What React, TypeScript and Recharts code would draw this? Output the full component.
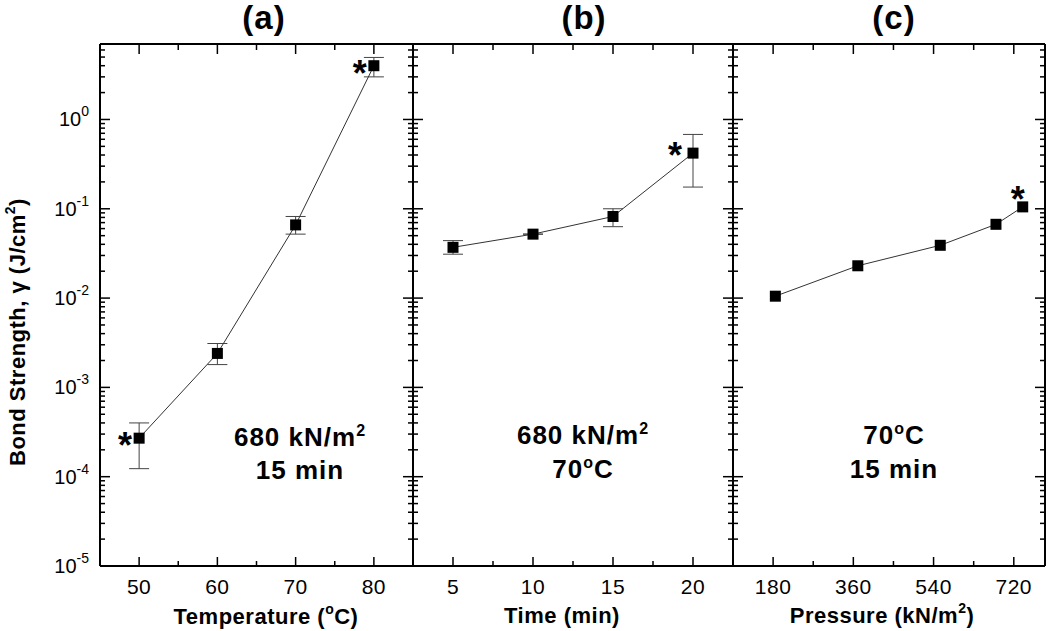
import { LineChart, Line, XAxis, YAxis, ErrorBar } from 'recharts';

const W = 1050;
const H = 631;
const PLOT_TOP = 44;
const PLOT_BOTTOM = 566;
const FONT = '"Liberation Sans", Arial, sans-serif';

// (a) bond strength vs temperature, 680 kN/m2, 15 min
const tempC = [50, 60, 70, 80];
const tempBond = [2.7e-4, 2.4e-3, 0.066, 4.0];
const tempLow = [1.23e-4, 1.8e-3, 0.052, 3.0];
const tempHigh = [4.0e-4, 3.1e-3, 0.082, 4.95];
const tempStar = [0, 3];

// (b) bond strength vs time, 680 kN/m2, 70 C
const timeMin = [5, 10, 15, 20];
const timeBond = [0.037, 0.052, 0.082, 0.42];
const timeLow = [0.031, 0.052, 0.063, 0.175];
const timeHigh = [0.044, 0.052, 0.1, 0.68];
const timeStar = [3];

// (c) bond strength vs pressure, 70 C, 15 min
const pressKN = [185, 370, 555, 680, 740];
const pressBond = [0.0105, 0.023, 0.039, 0.067, 0.105];
const pressStar = [4];

// ticks
const yMajor = [1e-5, 1e-4, 1e-3, 1e-2, 1e-1, 1];
const yExp = ['-5', '-4', '-3', '-2', '-1', '0'];
const yMinorMult = [2, 3, 4, 5, 6, 7, 8, 9];
const Y_DOMAIN: [number, number] = [1e-5, 7];
const yMinor = yMajor.flatMap((d) => yMinorMult.map((m) => m * d)).filter((v) => v < Y_DOMAIN[1]);

const tempMajor = [50, 60, 70, 80];
const tempMinor = [55, 65, 75];
const timeMajor = [5, 10, 15, 20];
const timeMinor = [7.5, 12.5, 17.5];
const pressMajor = [180, 360, 540, 720];
const pressMinor = [270, 450, 630];

type Row = { x: number; y: number; err: [number, number] };

function buildRows(xs: number[], ys: number[], lo?: number[], hi?: number[]): Row[] {
  return xs.map((x, i) => ({
    x,
    y: ys[i],
    err: [lo ? ys[i] - lo[i] : 0, hi ? hi[i] - ys[i] : 0],
  }));
}

const AXIS = { stroke: '#000', strokeWidth: 2 };
const TICK_STROKE = '#000';
const MAJOR = 9;
const MINOR = 5;

interface PanelProps {
  rows: Row[];
  xDomain: [number, number];
  xMajor: number[];
  xMinor: number[];
  left: number;
  right: number;
  yLabels: boolean;
  errors: boolean;
  star: number[];
  starDx: number;
  starDy: number;
}

function Panel({ rows, xDomain, xMajor, xMinor, left, right, yLabels, errors, star, starDx, starDy }: PanelProps) {
  const xTicks = [...xMajor, ...xMinor];
  const yTicks = [...yMajor, ...yMinor];
  const isXMajor = (v: number) => xMajor.includes(v);
  const yIdx = (v: number) => yMajor.indexOf(v);

  // axes are 1px thick, so the margins give up 1px on each side
  return (
    <div style={{ position: 'absolute', left: 0, top: 0 }}>
      <LineChart
        width={W}
        height={H}
        data={rows}
        margin={{ top: PLOT_TOP - 1, bottom: H - PLOT_BOTTOM - 1, left: left - 1, right: W - right - 1 }}
      >
        <XAxis
          xAxisId="b"
          dataKey="x"
          type="number"
          orientation="bottom"
          domain={xDomain}
          allowDataOverflow
          ticks={xTicks}
          interval={0}
          height={1}
          tickSize={0}
          tickMargin={0}
          tickLine={false}
          axisLine={AXIS}
          tick={(p: any) => {
            const major = isXMajor(p.payload.value);
            return (
              <g>
                <line x1={p.x} x2={p.x} y1={p.y} y2={p.y - (major ? MAJOR : MINOR)} stroke={TICK_STROKE} strokeWidth={1.5} />
                {major && (
                  <text x={p.x} y={p.y + 28} textAnchor="middle" fontSize={21} fontFamily={FONT} fill="#000" letterSpacing={0.5}>
                    {p.payload.value}
                  </text>
                )}
              </g>
            );
          }}
        />
        <XAxis
          xAxisId="t"
          dataKey="x"
          type="number"
          orientation="top"
          domain={xDomain}
          allowDataOverflow
          ticks={xTicks}
          interval={0}
          height={1}
          tickSize={0}
          tickMargin={0}
          tickLine={false}
          axisLine={AXIS}
          tick={(p: any) => {
            const major = isXMajor(p.payload.value);
            return (
              <line x1={p.x} x2={p.x} y1={p.y} y2={p.y + (major ? MAJOR + 1 : MINOR + 1)} stroke={TICK_STROKE} strokeWidth={1.5} />
            );
          }}
        />
        <YAxis
          yAxisId="l"
          type="number"
          scale="log"
          domain={Y_DOMAIN}
          allowDataOverflow
          ticks={yTicks}
          interval={0}
          width={1}
          tickSize={0}
          tickMargin={0}
          tickLine={false}
          axisLine={AXIS}
          tick={(p: any) => {
            const k = yIdx(p.payload.value);
            const major = k >= 0;
            return (
              <g>
                <line x1={p.x} x2={p.x + (major ? MAJOR + 1 : MINOR)} y1={p.y} y2={p.y} stroke={TICK_STROKE} strokeWidth={1.5} />
                {major && yLabels && (
                  <text x={p.x - 11} y={p.y + 7} textAnchor="end" fontSize={20} fontFamily={FONT} fill="#000">
                    10
                    <tspan dy={-10} fontSize={14}>
                      {yExp[k]}
                    </tspan>
                  </text>
                )}
              </g>
            );
          }}
        />
        <YAxis
          yAxisId="r"
          type="number"
          orientation="right"
          scale="log"
          domain={Y_DOMAIN}
          allowDataOverflow
          ticks={yTicks}
          interval={0}
          width={1}
          tickSize={0}
          tickMargin={0}
          tickLine={false}
          axisLine={AXIS}
          tick={(p: any) => {
            const major = yIdx(p.payload.value) >= 0;
            return (
              <line x1={p.x} x2={p.x - (major ? MAJOR + 1 : MINOR)} y1={p.y} y2={p.y} stroke={TICK_STROKE} strokeWidth={1.5} />
            );
          }}
        />
        <Line
          xAxisId="b"
          yAxisId="l"
          dataKey="y"
          type="linear"
          stroke="#333"
          strokeWidth={1}
          isAnimationActive={false}
          dot={(p: any) => <rect key={`d${p.index}`} x={p.cx - 5.5} y={p.cy - 5.5} width={11} height={11} fill="#000" />}
          activeDot={false}
          label={(p: any) =>
            star.includes(p.index) ? (
              <text
                key={`s${p.index}`}
                x={p.x + starDx}
                y={p.y + starDy + 18}
                textAnchor="middle"
                fontSize={36}
                fontWeight="bold"
                fontFamily={FONT}
                fill="#000"
              >
                *
              </text>
            ) : (
              <g key={`s${p.index}`} />
            )
          }
        >
          {errors && <ErrorBar dataKey="err" direction="y" width={10} stroke="#444" strokeWidth={1} />}
        </Line>
      </LineChart>
    </div>
  );
}

function Sup({ children, size = 16, dy = -10 }: { children: string; size?: number; dy?: number }) {
  return (
    <tspan dy={dy} fontSize={size}>
      {children}
    </tspan>
  );
}

export default function App() {
  const tempRows = buildRows(tempC, tempBond, tempLow, tempHigh);
  const timeRows = buildRows(timeMin, timeBond, timeLow, timeHigh);
  const pressRows = buildRows(pressKN, pressBond);

  const bold = { fontFamily: FONT, fontWeight: 'bold' as const, fill: '#000', textAnchor: 'middle' as const };

  return (
    <div style={{ position: 'absolute', left: 0, top: 0, width: W, height: H, background: '#fff' }}>
      <Panel rows={tempRows} xDomain={[45, 85]} xMajor={tempMajor} xMinor={tempMinor} left={100} right={413}
        yLabels errors star={tempStar} starDx={-14} starDy={2} />
      <Panel rows={timeRows} xDomain={[2.5, 22.5]} xMajor={timeMajor} xMinor={timeMinor} left={413} right={733}
        yLabels={false} errors star={timeStar} starDx={-18} starDy={-3} />
      <Panel rows={pressRows} xDomain={[90, 790]} xMajor={pressMajor} xMinor={pressMinor} left={733} right={1045}
        yLabels={false} errors={false} star={pressStar} starDx={-5} starDy={-13} />

      <svg width={W} height={H} style={{ position: 'absolute', left: 0, top: 0, pointerEvents: 'none' }}>
        <text x={264} y={29} fontSize={33} letterSpacing={1} {...bold}>(a)</text>
        <text x={584} y={29} fontSize={33} letterSpacing={1} {...bold}>(b)</text>
        <text x={894} y={29} fontSize={33} letterSpacing={1} {...bold}>(c)</text>

        <text transform="translate(25 332) rotate(-90)" fontSize={22} letterSpacing={0.5} {...bold}>
          Bond Strength, γ (J/cm<Sup size={14}>2</Sup><tspan dy={10}>)</tspan>
        </text>

        <text x={266} y={624} fontSize={22} letterSpacing={0.5} {...bold}>
          Temperature (<Sup size={14}>o</Sup><tspan dy={10}>C)</tspan>
        </text>
        <text x={562} y={623} fontSize={22} letterSpacing={0.5} {...bold}>Time (min)</text>
        <text x={882} y={623} fontSize={22} letterSpacing={0.5} {...bold}>
          Pressure (kN/m<Sup size={14}>2</Sup><tspan dy={10}>)</tspan>
        </text>

        <g fontSize={26} letterSpacing={1}>
          <text x={300} y={446} {...bold}>
            680 kN/m<Sup>2</Sup>
          </text>
          <text x={300} y={479} {...bold}>15 min</text>

          <text x={583} y={444} {...bold}>
            680 kN/m<Sup>2</Sup>
          </text>
          <text x={583} y={478} {...bold}>
            70<Sup>o</Sup><tspan dy={10}>C</tspan>
          </text>

          <text x={894} y={444} {...bold}>
            70<Sup>o</Sup><tspan dy={10}>C</tspan>
          </text>
          <text x={894} y={478} {...bold}>15 min</text>
        </g>
      </svg>
    </div>
  );
}
